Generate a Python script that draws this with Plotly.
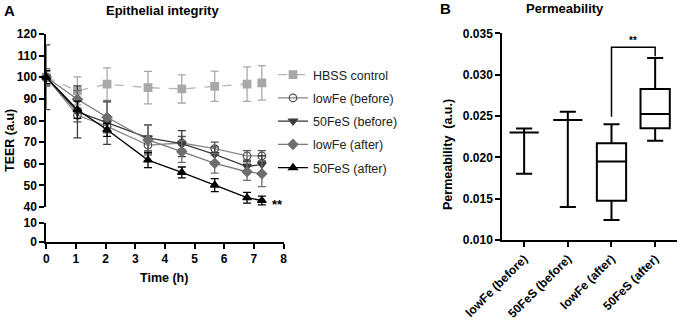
import plotly.graph_objects as go

# ---------------- Panel A data ----------------
times = [0, 1.05, 2.05, 3.43, 4.57, 5.68, 6.77, 7.27]
series_names = ["HBSS control", "lowFe (before)", "50FeS (before)", "lowFe (after)", "50FeS (after)"]
hbss = [100, 93.7, 96.8, 95.2, 94.6, 95.8, 96.8, 97.4]
hbss_err = [3, 6.5, 7.5, 7.5, 6.5, 7, 8, 8]
lowfe_before = [100, 82.4, 77.3, 68.6, 69.6, 67.0, 63.6, 63.6]
lowfe_before_err = [4, 3, 3, 4, 3, 3, 2.5, 2.5]
fes_before = [100, 84.0, 79.0, 72.0, 69.3, 64.3, 58.7, 59.7]
fes_before_err = [15, 12, 10, 6, 6, 3.5, 3, 4]
lowfe_after = [100, 89.8, 81.5, 71.0, 65.6, 60.2, 56.3, 55.4]
lowfe_after_err = [4, 4, 7, 7, 5, 4.5, 4, 6]
fes_after = [100, 85.0, 75.7, 61.7, 56.0, 50.1, 44.3, 43.0]
fes_after_err = [3, 4, 3, 3.5, 2.5, 3, 2.5, 2]
x_ticks = [0, 1, 2, 3, 4, 5, 6, 7, 8]
y_ticks_upper = [40, 50, 60, 70, 80, 90, 100, 110, 120]
y_ticks_lower = [0, 10]

# ---------------- Panel B data ----------------
groups = ["lowFe (before)", "50FeS (before)", "lowFe (after)", "50FeS (after)"]
perm_min = [0.0180, 0.0140, 0.01243, 0.0220]
perm_q1 = [0.0230, 0.0245, 0.01476, 0.02351]
perm_med = [0.0230, 0.0245, 0.01948, 0.02524]
perm_q3 = [0.0230, 0.0245, 0.02170, 0.02827]
perm_max = [0.0235, 0.0255, 0.0240, 0.0320]
perm_ticks = [0.010, 0.015, 0.020, 0.025, 0.030, 0.035]

FONT = "Liberation Sans, Arial, sans-serif"
W, H = 680, 323

def px_x(p):
    return p / W

def px_y(p):
    return 1 - p / H

fig = go.Figure()

styles = [
    dict(color="#a8a8a8", symbol="square", dash="dash", lc="#b4b4b4"),
    dict(color="#555555", symbol="circle-open", dash="solid", lc="#8a8a8a"),
    dict(color="#3c3c3c", symbol="triangle-down", dash="solid", lc="#3c3c3c"),
    dict(color="#6e6e6e", symbol="diamond", dash="solid", lc="#7a7a7a"),
    dict(color="#000000", symbol="triangle-up", dash="solid", lc="#000000"),
]
values = [hbss, lowfe_before, fes_before, lowfe_after, fes_after]
errs = [hbss_err, lowfe_before_err, fes_before_err, lowfe_after_err, fes_after_err]

for name, st, v, e in zip(series_names, styles, values, errs):
    fig.add_trace(go.Scatter(
        x=times, y=v, name=name, mode="lines+markers",
        xaxis="x3", yaxis="y", legendgroup=name, cliponaxis=False,
        line=dict(color=st["lc"], width=1.3, dash=st["dash"]),
        marker=dict(symbol=st["symbol"], size=7.5,
                    color=st["color"], line=dict(color=st["color"], width=1.3)),
        error_y=dict(type="data", array=e, color=st["color"], thickness=1.3, width=4),
    ))

# empty trace to establish lower broken-axis subplot
fig.add_trace(go.Scatter(x=[], y=[], xaxis="x", yaxis="y2", showlegend=False))

# Panel B boxes
fig.add_trace(go.Box(
    x=groups, q1=perm_q1, median=perm_med, q3=perm_q3,
    lowerfence=perm_min, upperfence=perm_max,
    xaxis="x4", yaxis="y4", showlegend=False,
    fillcolor="white", line=dict(color="black", width=2),
    width=0.67, whiskerwidth=0.55, hoverinfo="skip",
))

axis_common = dict(showgrid=False, zeroline=False, showline=True, linecolor="black",
                   linewidth=2, ticks="outside", ticklen=5, tickwidth=2, tickcolor="black",
                   automargin=False,
                   tickfont=dict(family=FONT, size=12, color="black", weight="bold"))

xa_dom = [px_x(46.3), px_x(283.5)]
fig.update_layout(
    width=W, height=H, margin=dict(l=0, r=0, t=0, b=0, autoexpand=False),
    paper_bgcolor="white", plot_bgcolor="white",
    font=dict(family=FONT, color="black"),
    xaxis=dict(domain=xa_dom, anchor="y2", range=[0, 8], tickvals=x_ticks, **axis_common),
    xaxis3=dict(domain=xa_dom, anchor="y", range=[0, 8], matches="x", visible=False),
    yaxis=dict(domain=[px_y(207), px_y(34)], anchor="x3", range=[40, 120],
               tickvals=y_ticks_upper, **axis_common),
    yaxis2=dict(domain=[px_y(241.7), px_y(222.7)], anchor="x", range=[0, 10],
                tickvals=y_ticks_lower, **axis_common),
    xaxis4=dict(domain=[px_x(502.3), px_x(677)], anchor="y4", type="category",
                range=[-0.5, 3.5], tickangle=-45, **axis_common),
    yaxis4=dict(domain=[px_y(240), px_y(33.3)], anchor="x4", range=[0.010, 0.035],
                tickvals=perm_ticks, tickformat=".3f", **axis_common),
    legend=dict(x=px_x(273), y=px_y(60), xanchor="left", yanchor="top",
                font=dict(family=FONT, size=12.5, color="#222222"),
                bgcolor="rgba(0,0,0,0)", traceorder="grouped", tracegroupgap=4,
                itemwidth=30),
    showlegend=True,
)

# significance bracket in panel B
gap = 0.0009
y_start = perm_max[2] + gap
y_top = max(perm_max) + 4 * gap / 3 + 0.0001
y_end = perm_max[3] + gap / 4
fig.add_shape(type="path", xref="x4", yref="y4",
              path=f"M 2,{y_start} L 2,{y_top} L 3,{y_top} L 3,{y_end}",
              line=dict(color="black", width=1.5))

annotations = [
    dict(text="<b>A</b>", x=px_x(9), y=px_y(10), size=15),
    dict(text="<b>B</b>", x=px_x(445), y=px_y(9), size=15),
    dict(text="<b>Epithelial integrity</b>", x=px_x(162), y=px_y(11), size=13),
    dict(text="<b>Permeability</b>", x=px_x(565), y=px_y(9), size=13),
    dict(text="<b>Time (h)</b>", x=px_x(164), y=px_y(278), size=12.5),
    dict(text="<b>TEER (a.u)</b>", x=px_x(10), y=px_y(141), size=12.5, angle=-90),
    dict(text="<b>Permeability  (a.u.)</b>", x=px_x(448), y=px_y(155), size=12.5, angle=-90),
]
for a in annotations:
    fig.add_annotation(text=a["text"], x=a["x"], y=a["y"], xref="paper", yref="paper",
                       showarrow=False, xanchor="center", yanchor="middle",
                       textangle=a.get("angle", 0),
                       font=dict(family=FONT, size=a["size"], color="black"))

fig.add_annotation(text="<b>**</b>", x=times[-1], y=fes_after[-1], xref="x3", yref="y",
                   xshift=8, yshift=-4, xanchor="left", yanchor="middle", showarrow=False,
                   font=dict(family=FONT, size=13, color="black"))
fig.add_annotation(text="<b>**</b>", x=2.5, y=y_top, xref="x4", yref="y4",
                   yshift=-1, xanchor="center", yanchor="bottom", showarrow=False,
                   font=dict(family=FONT, size=10, color="black"))

fig.write_html("out.html", config={"displayModeBar": False},
               post_script="document.body.style.margin='0px';")
